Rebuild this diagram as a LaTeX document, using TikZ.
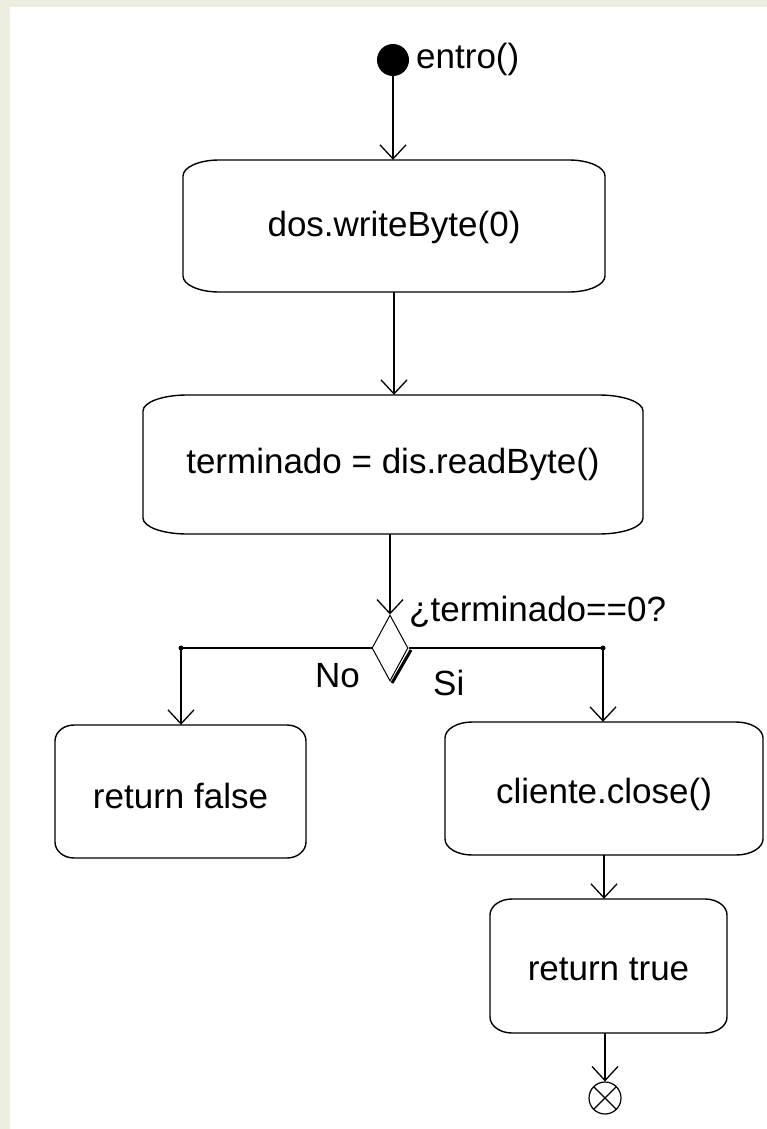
\documentclass[tikz,border=0pt]{standalone}
\usepackage{fontspec}
\setmainfont{Liberation Sans}
\usetikzlibrary{arrows.meta,shapes.geometric}
\definecolor{paper}{HTML}{ECECDF}
\definecolor{shade}{HTML}{8A8A8A}
\tikzset{
  boxline/.style={draw=black,line width=1.4pt},
  actnode/.style={inner sep=0pt,font=\fontsize{35}{40}\selectfont},
  lbl/.style={inner sep=0pt,font=\fontsize{35}{40}\selectfont},
  flow/.style={draw=black,line width=1.3pt,-{Straight Barb[length=14pt,width=26pt,line width=1.3pt]}},
  plain/.style={draw=black,line width=1.3pt},
  jdot/.style={circle,fill=black,inner sep=0pt,minimum size=5pt},
}
% name, x1, y1, x2, y2, corner x radius, text, text shift down (pixel coordinates, y downwards)
\newcommand\actbox[8]{%
  \node[actnode,minimum width={(#4-#2)*1pt},minimum height={(#5-#3)*1pt}] (#1) at ({(#2+#4)/2},{-(#3+#5)/2}) {};
  \node[actnode] (#1t) at ([yshift=-#8pt]#1.center) {#7};
  \draw[boxline] ({#2+#6},-#3) -- ({#4-#6},-#3)
     arc[start angle=90,end angle=0,x radius=#6pt,y radius=16pt]
     -- (#4,{-#5+16})
     arc[start angle=0,end angle=-90,x radius=#6pt,y radius=16pt]
     -- ({#2+#6},-#5)
     arc[start angle=270,end angle=180,x radius=#6pt,y radius=16pt]
     -- (#2,{-#3-16})
     arc[start angle=180,end angle=90,x radius=#6pt,y radius=16pt]
     -- cycle;
}
\begin{document}
\begin{tikzpicture}[x=1pt,y=1pt]
  \useasboundingbox (0,0) rectangle (767,-1129);
  \fill[paper] (0,0) rectangle (767,-1129);
  \fill[white] (10,-7) rectangle (767,-1129);

  % initial node
  \node[circle,fill=black,inner sep=0pt,minimum size=32pt] (start) at (393,-60) {};
  \node[lbl,anchor=base west] (startlbl) at (416,-69) {entro()};

  % activities
  \actbox{b1}{183}{160}{605}{292}{36}{dos.writeByte(0)}{1}
  \actbox{b2}{143}{395}{643}{534}{44}{terminado = dis.readByte()}{0}
  \actbox{b3}{55}{725}{306}{858}{19}{return false}{4}
  \actbox{b4}{445}{722}{763}{855}{27}{cliente.close()}{6}
  \actbox{b5}{490}{899}{727}{1033}{22}{return true}{3}

  % decision
  \draw[shade,line width=3pt] (411,-650) -- (392,-683);
  \node[diamond,draw=black,line width=1pt,inner sep=0pt,aspect=0.545,
        minimum width=36pt,minimum height=66pt] (dec) at (390,-648) {};
  \node[lbl,anchor=base west] (declbl) at (409,-621) {¿terminado==0?};
  \node[lbl,anchor=base east] (nolbl) at (360,-687) {No};
  \node[lbl,anchor=base west] (silbl) at (433,-695) {Si};

  % final node
  \node[circle,draw=black,line width=1.2pt,inner sep=0pt,minimum size=32pt,
        path picture={\draw[line width=1.2pt]
          (path picture bounding box.north west) -- (path picture bounding box.south east)
          (path picture bounding box.north east) -- (path picture bounding box.south west);}]
        (end) at (605,-1098) {};

  % junctions
  \coordinate (jl) at (181,-648);
  \coordinate (jr) at (603,-648);
  \node[jdot] (jld) at (jl) {};
  \node[jdot] (jrd) at (jr) {};

  % connectors
  \draw[flow] (start.south) -- (start.south |- b1.north);
  \draw[flow] (b1.south) -- (b1.south |- b2.north);
  \draw[flow] (b2.south -| dec.north) -- (dec.north);
  \draw[plain] (dec.west) -- (jl);
  \draw[plain] (dec.east) -- (jr);
  \draw[flow] (jl) -- (jl |- b3.north);
  \draw[flow] (jr) -- (jr |- b4.north);
  \draw[flow] (b4.south) -- (b4.south |- b5.north);
  \draw[flow] (end.north |- b5.south) -- (end.north);
\end{tikzpicture}
\end{document}
